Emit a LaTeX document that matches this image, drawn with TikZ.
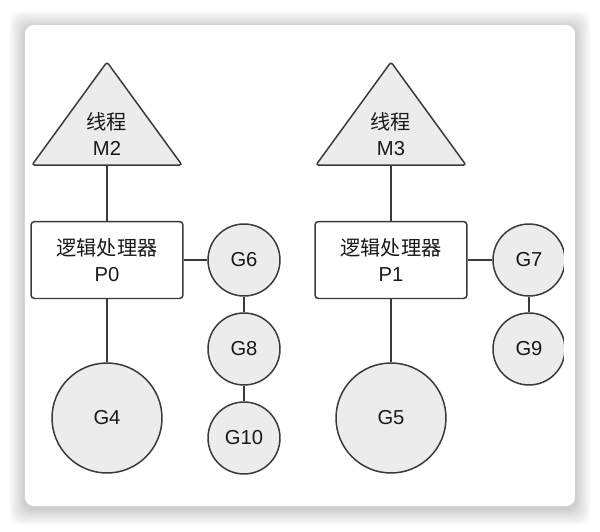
\documentclass[tikz,border=0pt]{standalone}
\usepackage{fontspec}
\setmainfont{Liberation Sans}
\newfontfamily\cjk{Noto Sans CJK SC}
\usepackage{xcolor}
\usepackage{tikz}
\definecolor{linegray}{HTML}{3A3A3A}
\definecolor{fillgray}{HTML}{ECECEC}
\tikzstyle{gr} = [circle, draw=linegray, fill=fillgray, line width=0.85pt, minimum size=1.44cm, inner sep=0pt]
\tikzstyle{gbig} = [gr, minimum size=2.2cm]
\tikzstyle{proc} = [rectangle, draw=linegray, fill=white, line width=0.85pt, rounded corners=2pt, minimum width=3.04cm, minimum height=1.54cm, align=center]
\tikzstyle{thr} = [draw=linegray, fill=fillgray, line width=0.85pt, rounded corners=1.5pt]
\tikzstyle{edge} = [draw=linegray, line width=0.85pt]

\begin{document}
\begin{tikzpicture}
				[x=0.02cm, y=-0.02cm,
				every node/.style={text=black!90, align=center},
				font=\fontsize{11.5}{14.5}\selectfont
				]
				\useasboundingbox (0,0) rectangle (600,532);
				\fill[white] (0,0) rectangle (600,532);
				% card with soft shadow
				\foreach \s in {1,...,16}
				\fill[black, opacity=0.011, rounded corners=6pt] (25-\s,27-\s) rectangle (575+\s,509+\s);
				\fill[white, rounded corners=5pt] (25,25) rectangle (575,506);
				% threads
				\draw[thr] (107,62) -- (182,165) -- (32,165) -- cycle;
				\draw[thr] (391,62) -- (466,165) -- (316,165) -- cycle;
				\coordinate (m2b) at (107,165);
				\coordinate (m3b) at (391,165);
				\draw (107,134) node(m2){{\cjk 线程}\\M2};
				\draw (391,134) node(m3){{\cjk 线程}\\M3};
				% processors
				\draw (107,260) node[proc](p0){{\cjk 逻辑处理器}\\P0};
				\draw (391,260) node[proc](p1){{\cjk 逻辑处理器}\\P1};
				% goroutines
				\draw (107,418) node[gbig](g4){G4};
				\draw (391,418) node[gbig](g5){G5};
				\draw (244,260) node[gr](g6){G6};
				\draw (244,349) node[gr](g8){G8};
				\draw (244,438) node[gr](g10){G10};
				\begin{scope}
				\clip (0,0) rectangle (564,532);
				\draw (529,260) node[gr](g7){G7};
				\draw (529,349) node[gr](g9){G9};
				\end{scope}
				\foreach \from/\to in {m2b/p0,p0/g4,p0/g6,g6/g8,g8/g10,m3b/p1,p1/g5,p1/g7,g7/g9}
				\draw[edge] (\from) -- (\to);
			\end{tikzpicture}
\end{document}
